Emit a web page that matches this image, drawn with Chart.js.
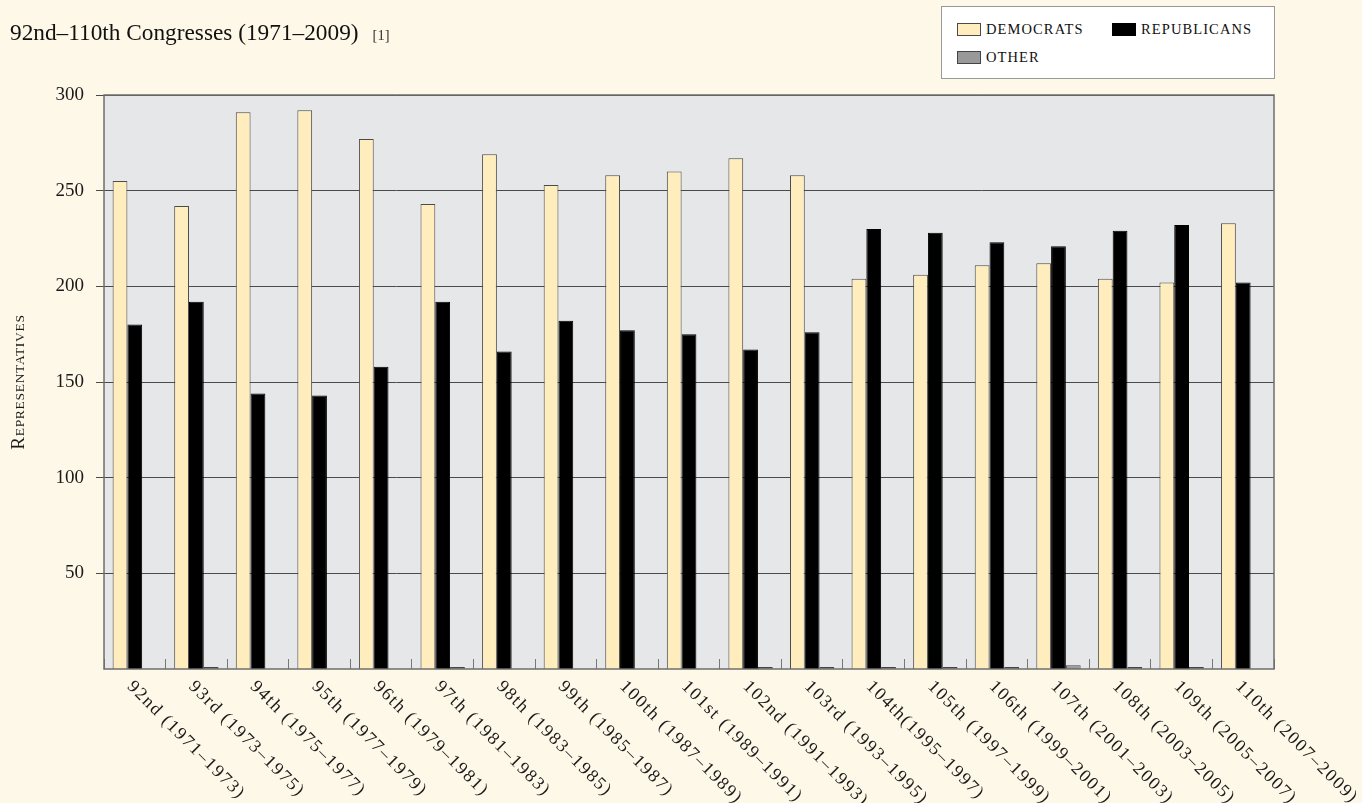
<!DOCTYPE html>
<html>
<head>
<meta charset="utf-8">
<script src="https://cdn.jsdelivr.net/npm/chart.js@4.4.0/dist/chart.umd.min.js"></script>
<style>
  html, body { margin: 0; padding: 0; background: #fef8e8; }
  #wrap { position: relative; width: 1362px; height: 803px; overflow: hidden; }
  #chart { position: absolute; left: 0; top: 0; }
  .title { position: absolute; left: 10px; top: 19px; font-family: 'Liberation Serif', serif; font-size: 23.3px; color: #111; white-space: nowrap; }
  .title .ref { font-size: 14.5px; color: #333; margin-left: 14px; }
  #legend { position: absolute; left: 941px; top: 6px; width: 334px; height: 73px; background: #fff; border: 1px solid #999; box-sizing: border-box; }
  .item { position: absolute; font-family: 'Liberation Serif', serif; font-size: 14.5px; letter-spacing: 1.1px; color: #111; white-space: nowrap; }
  .item span { position: absolute; left: 0; top: 2px; width: 22px; height: 11px; }
  .item b { font-weight: normal; margin-left: 29px; }
</style>
</head>
<body>
<div id="wrap">
  <canvas id="chart" width="1362" height="803"></canvas>
  <div class="title">92nd–110th Congresses (1971–2009)<span class="ref">[1]</span></div>
  <div id="legend"></div>
</div>
<script>
var congresses = ['92nd (1971–1973)', '93rd (1973–1975)', '94th (1975–1977)', '95th (1977–1979)',
    '96th (1979–1981)', '97th (1981–1983)', '98th (1983–1985)', '99th (1985–1987)',
    '100th (1987–1989)', '101st (1989–1991)', '102nd (1991–1993)', '103rd (1993–1995)',
    '104th(1995–1997)', '105th (1997–1999)', '106th (1999–2001)', '107th (2001–2003)',
    '108th (2003–2005)', '109th (2005–2007)', '110th (2007–2009)'];

var democrats   = [255, 242, 291, 292, 277, 243, 269, 253, 258, 260, 267, 258, 204, 206, 211, 212, 204, 202, 233];
var republicans = [180, 192, 144, 143, 158, 192, 166, 182, 177, 175, 167, 176, 230, 228, 223, 221, 229, 232, 202];
var other       = [0, 1, 0, 0, 0, 1, 0, 0, 0, 0, 1, 1, 1, 1, 1, 2, 1, 1, 0];

var yTicks = [50, 100, 150, 200, 250, 300];
var yTitle = 'Representatives';

var serif = "'Liberation Serif', serif";

// plot background + frame
var plotFrame = {
    id: 'plotFrame',
    beforeDraw: function(chart) {
        var a = chart.chartArea, ctx = chart.ctx;
        ctx.save();
        ctx.fillStyle = '#e6e7e9';
        ctx.fillRect(a.left, a.top, a.right - a.left, a.bottom - a.top);
        ctx.restore();
    },
    afterDraw: function(chart) {
        var a = chart.chartArea, ctx = chart.ctx;
        ctx.save();
        ctx.strokeStyle = '#6e6e6e';
        ctx.lineWidth = 1.5;
        ctx.strokeRect(a.left, a.top, a.right - a.left, a.bottom - a.top);
        ctx.restore();
    }
};

// category labels slanting down to the right, plus the small-caps y title
var extraText = {
    id: 'extraText',
    afterDraw: function(chart) {
        var x = chart.scales.x, a = chart.chartArea, ctx = chart.ctx;
        ctx.save();
        ctx.font = "18px " + serif;
        ctx.letterSpacing = '1.6px';
        ctx.fillStyle = '#1a1a1a';
        ctx.textAlign = 'left';
        ctx.textBaseline = 'middle';
        congresses.forEach(function(lbl, i) {
            var px = x.getPixelForTick(i);
            ctx.save();
            ctx.translate(px - 5, x.top + 15);
            ctx.rotate(Math.PI / 4);
            ctx.fillText(lbl, 0, 0);
            ctx.restore();
        });

        // fake small caps: first letter big, the rest small uppercase
        var first = yTitle.charAt(0), rest = yTitle.slice(1).toUpperCase();
        ctx.letterSpacing = '0.7px';
        ctx.font = "19px " + serif;
        var w1 = ctx.measureText(first).width;
        ctx.font = "13.5px " + serif;
        var w2 = ctx.measureText(rest).width;
        ctx.translate(24, (a.top + a.bottom) / 2);
        ctx.rotate(-Math.PI / 2);
        ctx.textBaseline = 'alphabetic';
        var start = -(w1 + w2) / 2;
        ctx.font = "19px " + serif;
        ctx.fillText(first, start, 0);
        ctx.font = "13.5px " + serif;
        ctx.fillText(rest, start + w1, 0);
        ctx.restore();
    }
};

var ctx = document.getElementById('chart').getContext('2d');
var myChart = new Chart(ctx, {
    type: 'bar',
    data: {
        labels: congresses,
        datasets: [{
            label: 'Democrats',
            data: democrats,
            backgroundColor: '#ffedbe',
            borderColor: '#4a4a4a',
            borderWidth: 1
        }, {
            label: 'Republicans',
            data: republicans,
            backgroundColor: '#000',
            borderColor: '#000',
            borderWidth: 1
        }, {
            label: 'Other',
            data: other,
            backgroundColor: '#999',
            borderColor: '#444',
            borderWidth: 1
        }]
    },
    options: {
        responsive: false,
        animation: false,
        layout: { padding: { left: 0, top: 95, right: 88, bottom: 0 } },
        categoryPercentage: 0.72,
        barPercentage: 1.0,
        plugins: {
            legend: { display: false },
            tooltip: { enabled: false }
        },
        scales: {
            x: {
                ticks: { display: false },
                grid: {
                    drawOnChartArea: false,
                    drawTicks: true,
                    tickLength: -10,
                    color: '#777',
                    lineWidth: 1
                },
                border: { display: false },
                afterFit: function(s) { s.height = 134; }
            },
            y: {
                min: 0,
                max: 300,
                afterBuildTicks: function(s) {
                    s.ticks = yTicks.map(function(v) { return { value: v }; });
                },
                ticks: {
                    font: { family: serif, size: 19 },
                    color: '#1a1a1a',
                    padding: 12
                },
                grid: {
                    color: '#4a4a4a',
                    lineWidth: 1,
                    tickLength: 8
                },
                border: { display: false },
                afterFit: function(s) { s.width = 104; }
            }
        }
    },
    plugins: [plotFrame, extraText]
});

// html legend built from the datasets
var legendBox = document.getElementById('legend');
var spots = [[15, 14], [170, 14], [15, 42]];
myChart.data.datasets.forEach(function(ds, i) {
    var it = document.createElement('div');
    it.className = 'item';
    it.style.left = spots[i][0] + 'px';
    it.style.top = spots[i][1] + 'px';
    it.innerHTML = '<span style="background:' + ds.backgroundColor + ';border:1px solid ' + ds.borderColor + '"></span><b>' + ds.label.toUpperCase() + '</b>';
    legendBox.appendChild(it);
});
</script>
</body>
</html>
